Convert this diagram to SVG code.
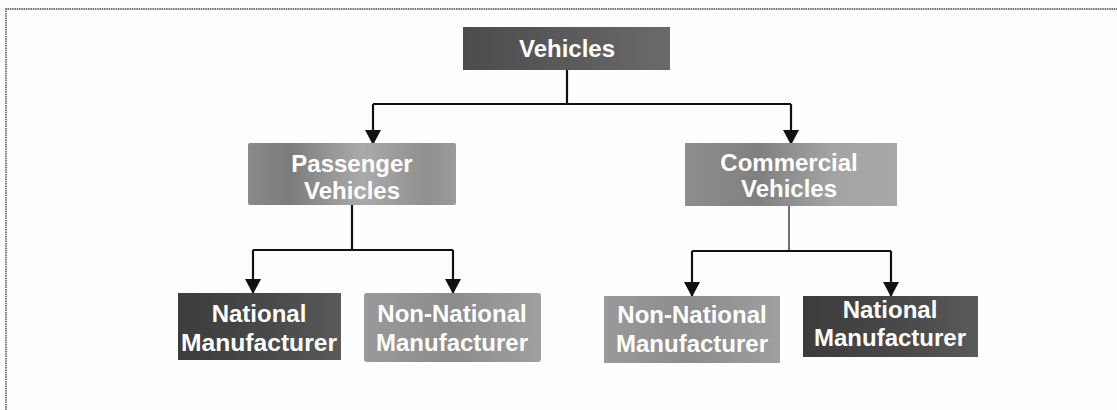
<svg xmlns="http://www.w3.org/2000/svg" width="1117" height="410" viewBox="0 0 1117 410">
  <style>
    .lbl { font-family: "Liberation Sans", Arial, sans-serif; font-weight: bold; font-size: 24px; fill: #ffffff; text-anchor: middle; }
    .wire { fill: none; stroke: #111111; stroke-width: 2.2; }
    .thin { stroke: #333333; stroke-width: 1.4; }
    .frame { fill: none; stroke: #6e6e6e; stroke-width: 1.8; stroke-dasharray: 1.5 0.8; }
  </style>
  <defs>
    <marker id="arrow" markerWidth="16" markerHeight="16" refX="15" refY="8" orient="auto" markerUnits="userSpaceOnUse">
      <path d="M0,0 L15,8 L0,16 Z" fill="#111111"/>
    </marker>
    <linearGradient id="gDark" x1="0" y1="0" x2="1" y2="0">
      <stop offset="0" stop-color="#4c4c4c"/>
      <stop offset="0.5" stop-color="#5a5a5a"/>
      <stop offset="1" stop-color="#6a6a6a"/>
    </linearGradient>
    <linearGradient id="gNational" x1="0" y1="0" x2="1" y2="0">
      <stop offset="0" stop-color="#3c3c3c"/>
      <stop offset="0.6" stop-color="#4a4a4a"/>
      <stop offset="1" stop-color="#5a5a5a"/>
    </linearGradient>
    <linearGradient id="gPass" x1="0" y1="0" x2="1" y2="0">
      <stop offset="0" stop-color="#8a8a8a"/>
      <stop offset="0.2" stop-color="#7c7c7c"/>
      <stop offset="0.55" stop-color="#aaaaaa"/>
      <stop offset="0.85" stop-color="#909090"/>
      <stop offset="1" stop-color="#9a9a9a"/>
    </linearGradient>
    <linearGradient id="gComm" x1="0" y1="0" x2="1" y2="0">
      <stop offset="0" stop-color="#8e8e8e"/>
      <stop offset="0.35" stop-color="#808080"/>
      <stop offset="0.7" stop-color="#a4a4a4"/>
      <stop offset="1" stop-color="#a8a8a8"/>
    </linearGradient>
    <linearGradient id="gNon" x1="0" y1="0" x2="1" y2="0">
      <stop offset="0" stop-color="#9a9a9a"/>
      <stop offset="0.5" stop-color="#8c8c8c"/>
      <stop offset="1" stop-color="#a0a0a0"/>
    </linearGradient>
  </defs>

  <rect width="1117" height="410" fill="#fefefe"/>
  <path class="frame" d="M6,410 V9 H1117"/>

  <g id="connectors">
    <path class="wire" d="M567,70 V104"/>
    <path class="wire" d="M373,104 H791"/>
    <path class="wire" d="M373,104 V145" marker-end="url(#arrow)"/>
    <path class="wire" d="M791,104 V145" marker-end="url(#arrow)"/>
    <path class="wire" d="M352,205 V250"/>
    <path class="wire" d="M253,250 H453"/>
    <path class="wire" d="M253,250 V294" marker-end="url(#arrow)"/>
    <path class="wire" d="M453,250 V294" marker-end="url(#arrow)"/>
    <path class="wire thin" d="M789,206 V251"/>
    <path class="wire" d="M692,251 H891"/>
    <path class="wire" d="M692,251 V297" marker-end="url(#arrow)"/>
    <path class="wire" d="M891,251 V297" marker-end="url(#arrow)"/>
  </g>

  <g id="vehicles">
    <rect x="463" y="27" width="207" height="43" fill="url(#gDark)"/>
    <text class="lbl" x="567" y="57">Vehicles</text>
  </g>

  <g id="passenger-vehicles">
    <rect x="248" y="143" width="208" height="62" rx="2" fill="url(#gPass)"/>
    <text class="lbl" x="352" y="172">Passenger</text>
    <text class="lbl" x="352" y="199">Vehicles</text>
  </g>

  <g id="commercial-vehicles">
    <rect x="685" y="143" width="212" height="63" fill="url(#gComm)"/>
    <text class="lbl" x="789" y="171">Commercial</text>
    <text class="lbl" x="789" y="197">Vehicles</text>
  </g>

  <g id="pv-national">
    <rect x="178" y="293" width="163" height="67" fill="url(#gNational)"/>
    <text class="lbl" x="259" y="322">National</text>
    <text class="lbl" x="259" y="351" textLength="156" lengthAdjust="spacingAndGlyphs">Manufacturer</text>
  </g>

  <g id="pv-non-national">
    <rect x="364" y="293" width="177" height="69" rx="3" fill="url(#gNon)"/>
    <text class="lbl" x="452" y="322">Non-National</text>
    <text class="lbl" x="452" y="351">Manufacturer</text>
  </g>

  <g id="cv-non-national">
    <rect x="604" y="296" width="176" height="67" fill="url(#gNon)"/>
    <text class="lbl" x="692" y="323">Non-National</text>
    <text class="lbl" x="692" y="352">Manufacturer</text>
  </g>

  <g id="cv-national">
    <rect x="803" y="296" width="175" height="61" fill="url(#gNational)"/>
    <text class="lbl" x="890" y="318">National</text>
    <text class="lbl" x="890" y="346">Manufacturer</text>
  </g>
</svg>
